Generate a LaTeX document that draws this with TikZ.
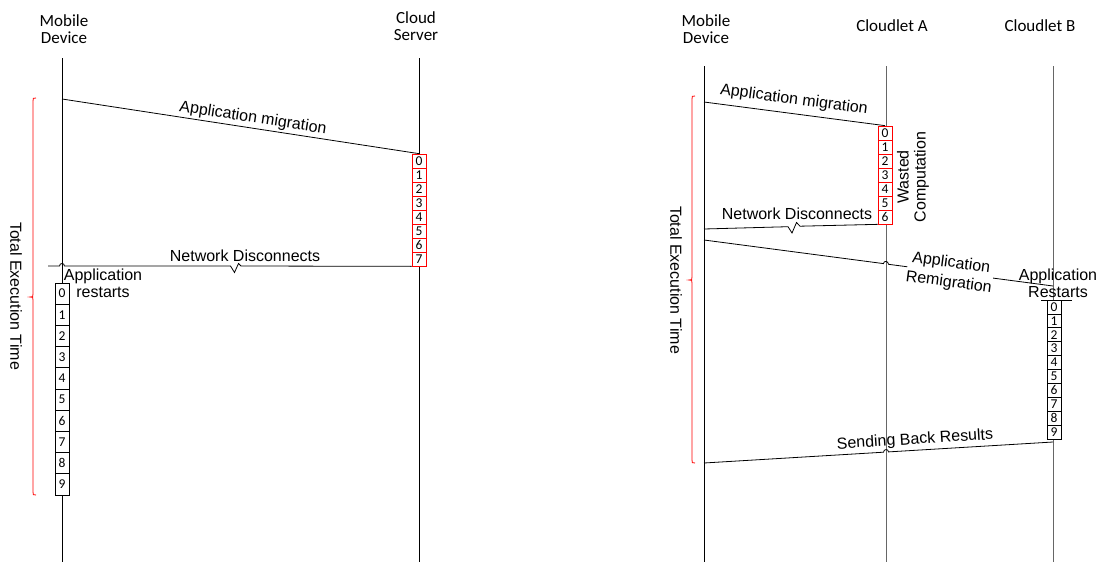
\documentclass[tikz,border=0pt]{standalone}
\usepackage{fontspec}
\setmainfont{Liberation Sans}
\newfontfamily\calibrifont{Carlito}
\begin{document}
\begin{tikzpicture}[x=1pt,y=-1pt,
  life/.style={line width=0.9pt},
  lifegray/.style={line width=0.9pt, draw=black!60},
  msg/.style={line width=0.8pt},
  bracepath/.style={draw=red, line width=0.8pt},
  lbl/.style={font=\fontsize{16}{17}\selectfont, align=center, inner sep=0pt},
  head/.style={font=\calibrifont\fontsize{17}{17}\selectfont, align=center, inner sep=0pt},
  cell/.style={draw, line width=0.7pt, fill=white, minimum width=14pt, inner sep=0pt,
               font=\calibrifont\fontsize{13.5}{13.5}\selectfont},
  redcell/.style={cell, draw=red, minimum height=14pt},
  tallcell/.style={cell, minimum height=21.2pt},
  shortcell/.style={cell, minimum height=13.9pt}]
\useasboundingbox (0,0) rectangle (1104,562);

% ---------- left: mobile device and cloud server ----------
\node[head] (mdL) at (64,29.5) {Mobile\\Device};
\node[head] (csL) at (416,26) {Cloud\\Server};

\coordinate (mdLt) at (62,58);  \coordinate (mdLb) at (62,562);
\coordinate (csLt) at (419,58); \coordinate (csLb) at (419,562);
\draw[life] (mdLt) -- (mdLb);
\draw[life] (csLt) -- (csLb);

\foreach \i in {0,...,7}
  \node[redcell] (r\i) at (419,{161+14*\i}) {\i};

\coordinate (migL) at (62,99);
\draw[msg] (migL) -- (r0.north);
\node[lbl, rotate=-8.76] (migLlbl) at (253,118.5) {Application migration};

\coordinate (nwL) at (48,266);
\draw[msg] (r7.south west) -- (241,266) -- (238.5,263.5) -- (234.5,272.5) -- (230.5,266)
  -- (64.5,266) .. controls (64.5,262.7) and (59.5,262.7) .. (59.5,266) -- (nwL);
\node[lbl] (nwLlbl) at (245,256) {Network Disconnects};

\node[lbl] (restL) at (103,283.5) {Application\\restarts};

\foreach \i in {0,...,9}
  \node[tallcell] (b\i) at (62,{293.6+21.2*\i}) {\i};

\draw[bracepath] (36,98) .. controls (33,98) .. (33,101) -- (33,294)
  .. controls (33,297) .. (30,297) .. controls (33,297) .. (33,300) -- (33,492)
  .. controls (33,495) .. (36,495);
\node[lbl, rotate=-90] (totL) at (16,296) {Total Execution Time};

% ---------- right: mobile device and two cloudlets ----------
\node[head] (mdR) at (706,29.5) {Mobile\\Device};
\node[head] (caR) at (892,26) {Cloudlet A};
\node[head] (cbR) at (1040,26) {Cloudlet B};

\coordinate (mdRt) at (704,66);  \coordinate (mdRb) at (704,562);
\coordinate (caRt) at (886,66);  \coordinate (caRb) at (886,562);
\coordinate (cbRt) at (1053,66); \coordinate (cbRb) at (1053,562);
\draw[life] (mdRt) -- (mdRb);
\draw[lifegray] (caRt) -- (caRb);
\draw[lifegray] (cbRt) -- (cbRb);

\foreach \i in {0,...,6}
  \node[redcell] (rr\i) at (885,{133+14*\i}) {\i};

\coordinate (migR) at (704,102);
\draw[msg] (migR) -- (rr0.north);
\node[lbl, rotate=-7.6] (migRlbl) at (794,100) {Application migration};

\node[lbl, rotate=90] (waste) at (913,177) {Wasted\\Computation};

\coordinate (nwR) at (704,229);
\draw[msg] (rr6.south west) -- (800,226.2) -- (796.5,222.5) -- (792,233) -- (788,226.7) -- (nwR);
\node[lbl] (nwRlbl) at (797,214) {Network Disconnects};

\coordinate (rmS) at (704,240);
\coordinate (rmE) at (1053,286);
\draw[msg] (rmS) -- (883.5,263.6) .. controls (883.5,260.3) and (888.5,260.9) .. (888.5,264.3) -- (rmE);
\node[lbl, rotate=-7.5, fill=white, font=\fontsize{16}{19.5}\selectfont] (rmlbl) at (950,273) {Application\\Remigration};

\node[lbl] (restR) at (1058,283.5) {Application\\Restarts};
\coordinate (barL) at (1041,300); \coordinate (barR) at (1072,300);
\draw[msg] (barL) -- (barR);

\foreach \i in {0,...,9}
  \node[shortcell] (bb\i) at (1054,{306.95+13.9*\i}) {\i};

\coordinate (sbS) at (1053,442);
\coordinate (sbE) at (704,463);
\draw[msg] (sbS) -- (888.5,451.9) .. controls (888.5,448.6) and (883.5,448.9) .. (883.5,452.2) -- (sbE);
\node[lbl, rotate=3.6] (sblbl) at (915,440) {Sending Back Results};

\draw[bracepath] (695,96) .. controls (692,96) .. (692,99) -- (692,277)
  .. controls (692,280) .. (689,280) .. controls (692,280) .. (692,283) -- (692,460)
  .. controls (692,463) .. (695,463);
\node[lbl, rotate=-90] (totR) at (676,280) {Total Execution Time};
\end{tikzpicture}
\end{document}
